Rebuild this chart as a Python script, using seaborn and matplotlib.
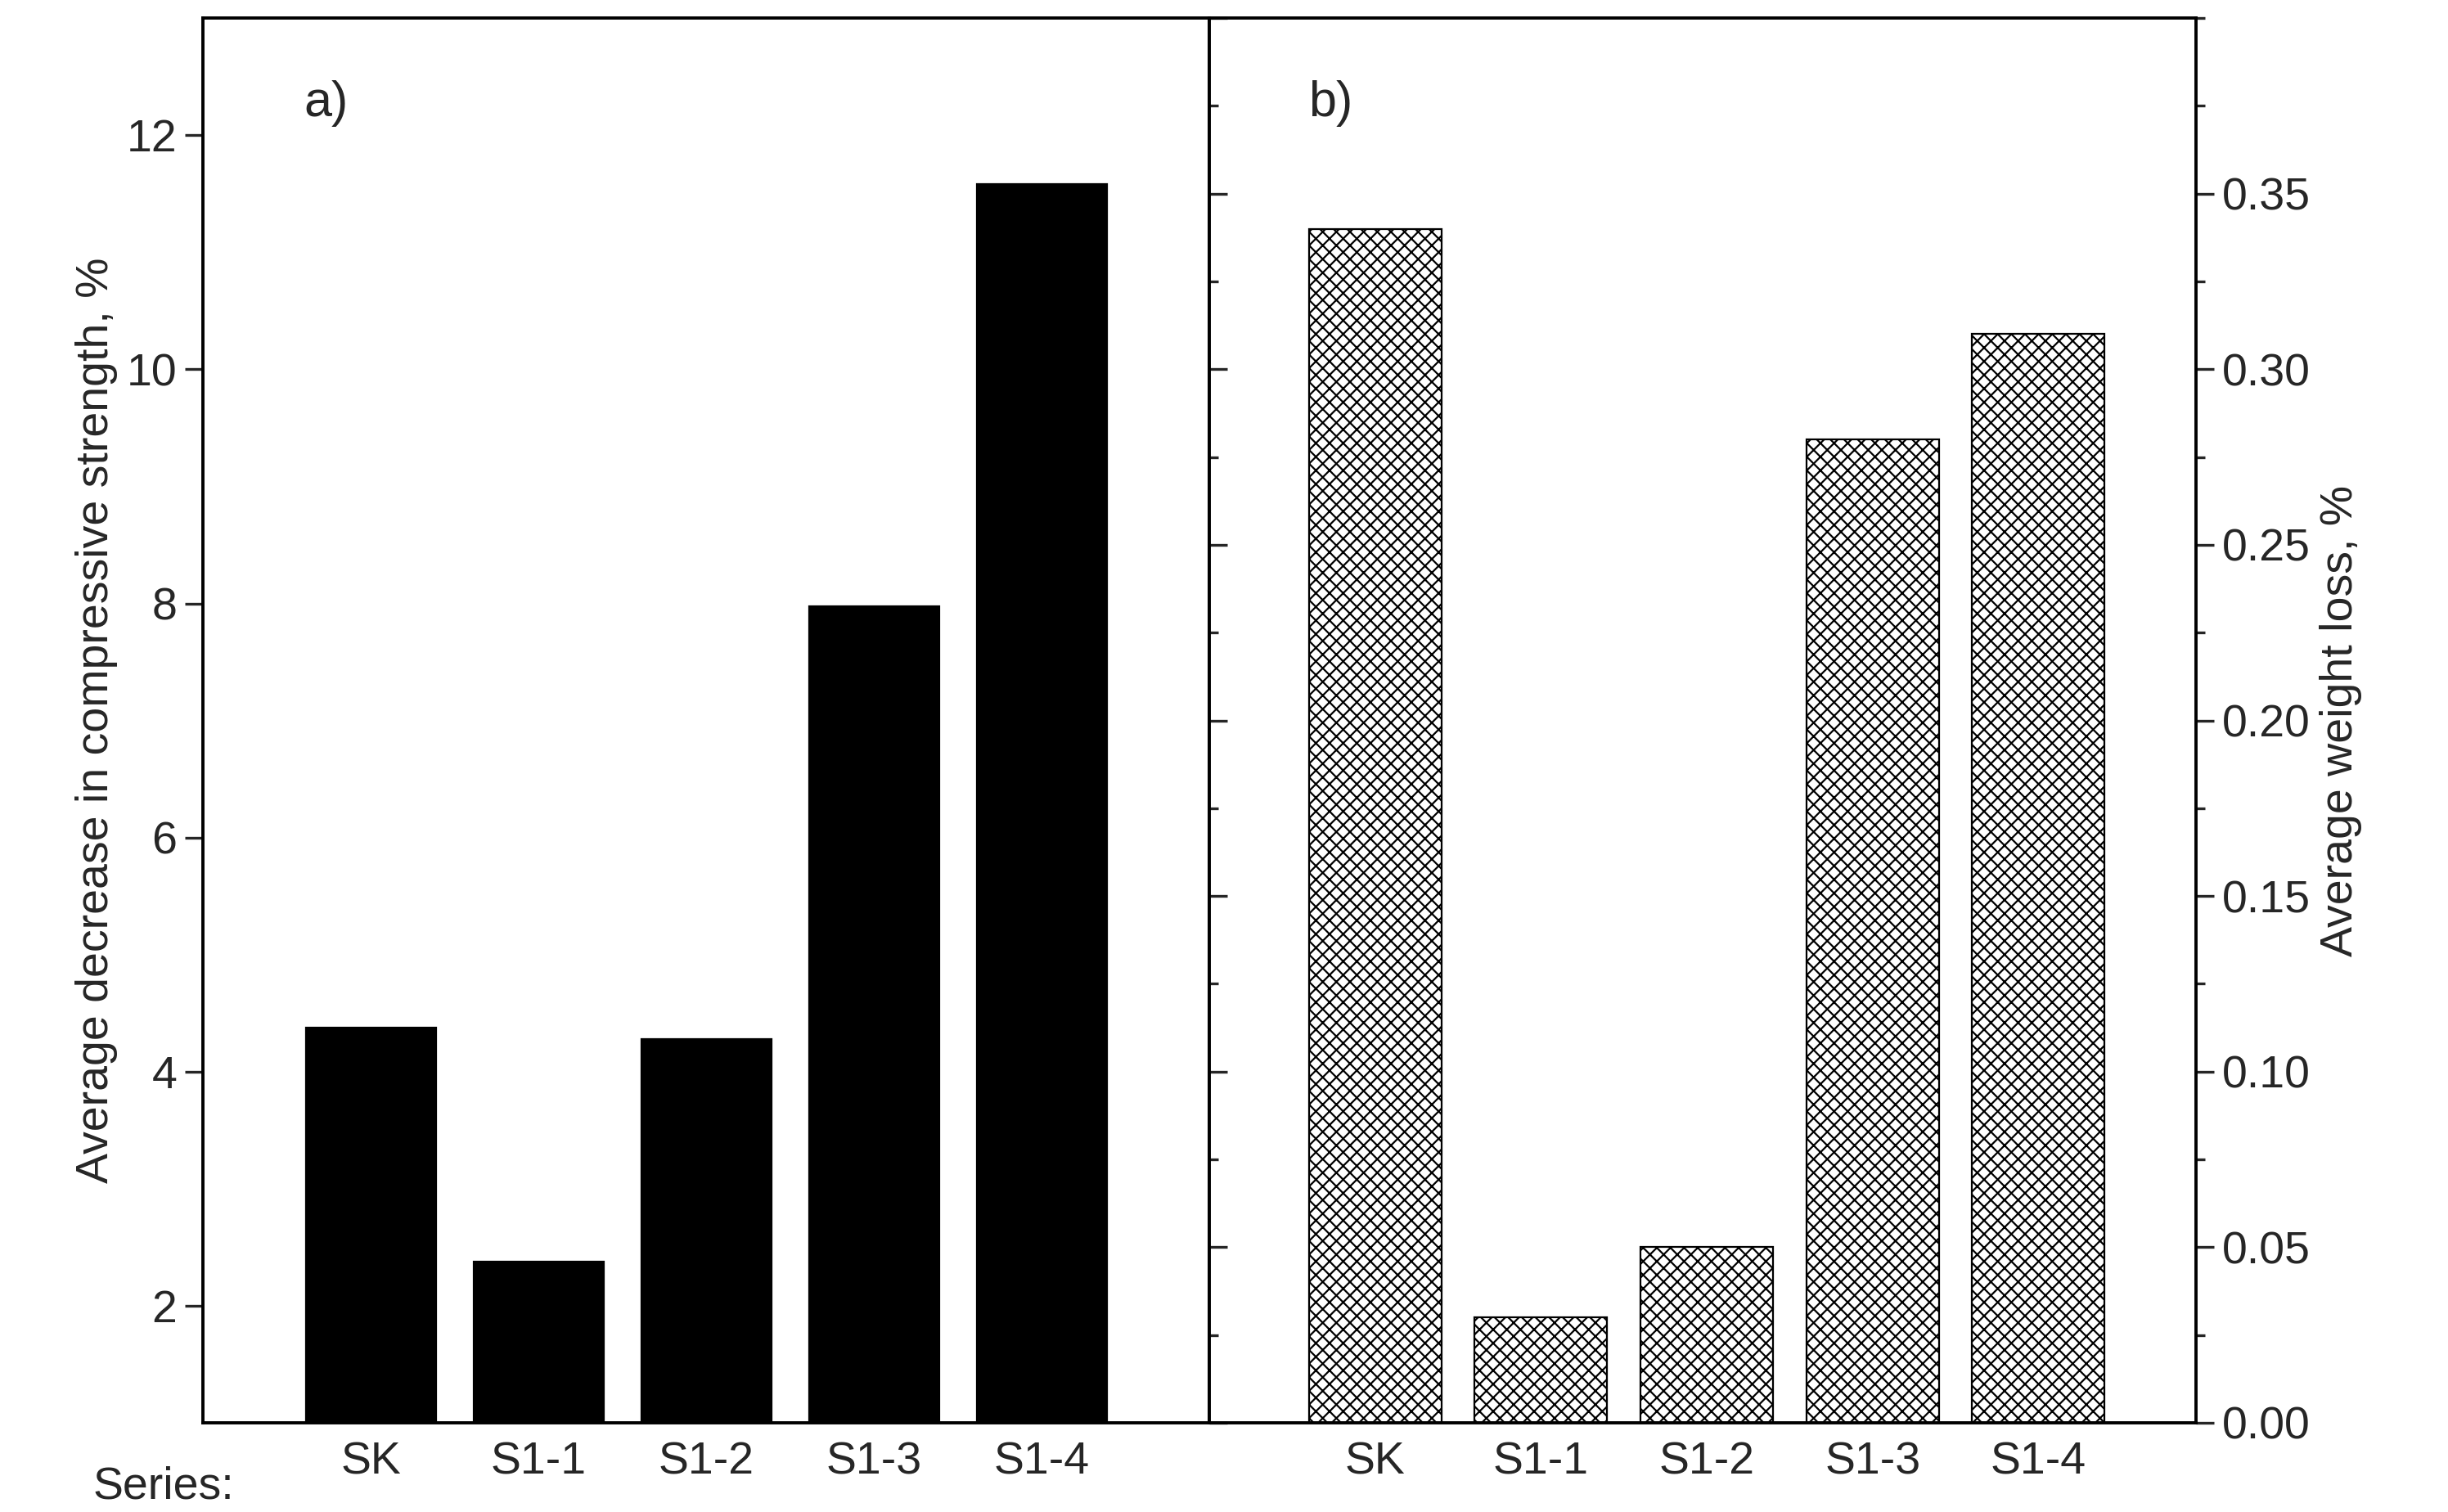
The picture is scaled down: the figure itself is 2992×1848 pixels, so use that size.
import matplotlib
matplotlib.use("Agg")
import matplotlib.pyplot as plt
import seaborn as sns
from matplotlib.ticker import MultipleLocator

sns.set_style("white")
plt.rcParams["font.family"] = ["Liberation Sans", "DejaVu Sans"]
plt.rcParams["hatch.linewidth"] = 0.8

series = ["SK", "S1-1", "S1-2", "S1-3", "S1-4"]
strength_drop = [4.4, 2.4, 4.3, 8.0, 11.6]
weight_loss = [0.34, 0.03, 0.05, 0.28, 0.31]

fig = plt.figure(figsize=(14.96, 9.24), dpi=200)
ax1 = fig.add_axes([0.083, 0.059, 0.411, 0.929])
ax2 = fig.add_axes([0.494, 0.059, 0.403, 0.929])

# a) compressive strength
sns.barplot(x=series, y=strength_drop, color="black", width=0.8,
            saturation=1, ax=ax1)
ax1.set_xlim(-1, 5)
ax1.set_ylim(1, 13)
ax1.yaxis.set_major_locator(MultipleLocator(2))
ax1.set_yticks([2, 4, 6, 8, 10, 12])
ax1.set_ylabel("Average decrease in compressive strength, %", fontsize=20)
ax1.tick_params(axis="y", direction="out", length=8, width=1.2, labelsize=20, left=True)
ax1.tick_params(axis="x", length=0, labelsize=20, pad=8)
ax1.text(0.1, 0.93, "a)", transform=ax1.transAxes, fontsize=22)
ax1.text(-0.11, -0.046, "Series:", transform=ax1.transAxes, fontsize=20,
         ha="left", va="center")

# b) weight loss
sns.barplot(x=series, y=weight_loss, color="white", width=0.8,
            saturation=1, edgecolor="black", linewidth=0.8, ax=ax2)
for p in ax2.patches:
    p.set_hatch("xxxx")
ax2.set_xlim(-1, 4.95)
ax2.set_ylim(0, 0.4)
ax2.yaxis.set_major_locator(MultipleLocator(0.05))
ax2.yaxis.set_minor_locator(MultipleLocator(0.025))
ax2.yaxis.tick_right()
ax2.yaxis.set_label_position("right")
ax2.set_yticks([0, 0.05, 0.1, 0.15, 0.2, 0.25, 0.3, 0.35])
ax2.set_yticklabels(["0.00", "0.05", "0.10", "0.15", "0.20", "0.25", "0.30", "0.35"])
ax2.set_ylabel("Average weight loss, %", fontsize=20)
ax2.tick_params(axis="y", which="major", direction="out", length=8, width=1.2,
                labelsize=20, right=True)
ax2.tick_params(axis="y", which="minor", direction="out", length=4, width=1.2, right=True)
ax2.tick_params(axis="x", length=0, labelsize=20, pad=8)
sec = ax2.secondary_yaxis("left")
sec.yaxis.set_major_locator(MultipleLocator(0.05))
sec.yaxis.set_minor_locator(MultipleLocator(0.025))
sec.tick_params(which="major", direction="in", length=8, width=1.2, labelleft=False)
sec.tick_params(which="minor", direction="in", length=4, width=1.2)
sec.spines["left"].set_visible(False)
ax2.text(0.1, 0.93, "b)", transform=ax2.transAxes, fontsize=22)

for ax in (ax1, ax2):
    for s in ax.spines.values():
        s.set_visible(True)
        s.set_color("black")
        s.set_linewidth(1.4)

fig.savefig("out.png", dpi=200)
